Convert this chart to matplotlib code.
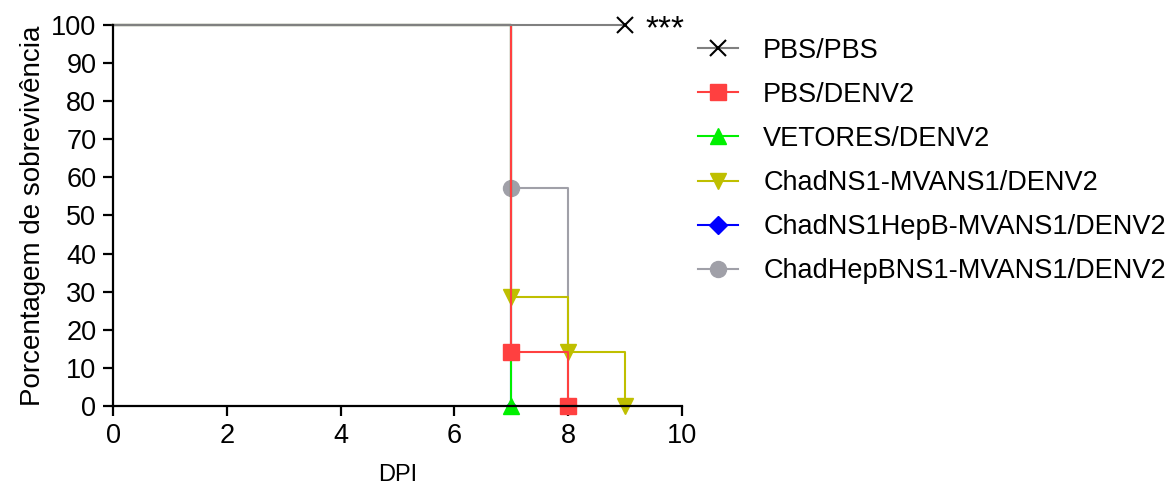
import matplotlib
matplotlib.use("Agg")
import matplotlib.pyplot as plt

plt.rcParams['font.family'] = ['Liberation Sans', 'DejaVu Sans']

# Kaplan-Meier steps: day of each event and survival (%) after it
groups = ["ChadHepBNS1-MVANS1/DENV2", "ChadNS1HepB-MVANS1/DENV2",
          "ChadNS1-MVANS1/DENV2", "VETORES/DENV2", "PBS/DENV2", "PBS/PBS"]
days = {
    "PBS/PBS": [0, 9],
    "PBS/DENV2": [0, 7, 8],
    "VETORES/DENV2": [0, 7],
    "ChadNS1-MVANS1/DENV2": [0, 7, 8, 9],
    "ChadNS1HepB-MVANS1/DENV2": [0, 7],
    "ChadHepBNS1-MVANS1/DENV2": [0, 7, 8],
}
survival = {
    "PBS/PBS": [100, 100],
    "PBS/DENV2": [100, 14.29, 0],
    "VETORES/DENV2": [100, 0],
    "ChadNS1-MVANS1/DENV2": [100, 28.57, 14.29, 0],
    "ChadNS1HepB-MVANS1/DENV2": [100, 0],
    "ChadHepBNS1-MVANS1/DENV2": [100, 57.14, 0],
}
legend_order = ["PBS/PBS", "PBS/DENV2", "VETORES/DENV2", "ChadNS1-MVANS1/DENV2",
                "ChadNS1HepB-MVANS1/DENV2", "ChadHepBNS1-MVANS1/DENV2"]

styles = {
    "PBS/PBS": dict(color="#808080", marker="x", mfc="black", mec="black", ms=12, mew=1.5),
    "PBS/DENV2": dict(color="#FF4040", marker="s", mfc="#FF4040", mec="#FF4040", ms=11),
    "VETORES/DENV2": dict(color="#00F000", marker="^", mfc="#00F000", mec="#00F000", ms=12),
    "ChadNS1-MVANS1/DENV2": dict(color="#BFBF00", marker="v", mfc="#BFBF00", mec="#BFBF00", ms=12),
    "ChadNS1HepB-MVANS1/DENV2": dict(color="#0000FF", marker="D", mfc="#0000FF", mec="#0000FF", ms=9),
    "ChadHepBNS1-MVANS1/DENV2": dict(color="#A0A0A8", marker="o", mfc="#A0A0A8", mec="#A0A0A8", ms=11.5),
}

fig = plt.figure(figsize=(11.7, 4.86), dpi=100)
ax = fig.add_axes([0.0966, 0.1646, 0.4863, 0.784])

handles = {}
for g in groups:
    x = days[g]
    y = survival[g]
    st = dict(styles[g])
    # the blue diamond sits behind the green triangle at day 7
    if g == "ChadNS1HepB-MVANS1/DENV2":
        st["ms"] = 5
    line, = ax.plot(x, y, drawstyle="steps-post", lw=1.5, clip_on=False,
                    markevery=list(range(1, len(x))), label=g, **st)
    handles[g] = line

ax.text(9.35, 96.6, "***", fontsize=24, va="baseline", ha="left")

ax.set_xlim(0, 10)
ax.set_ylim(0, 100)
ax.set_xticks(range(0, 11, 2))
ax.set_yticks(range(0, 101, 10))
for s in ["top", "right"]:
    ax.spines[s].set_visible(False)
for s in ["left", "bottom"]:
    ax.spines[s].set_linewidth(1.6)
ax.tick_params(axis="both", direction="out", length=7, width=1.6, labelsize=19.5, pad=5)
ax.set_xlabel("DPI", fontsize=17, labelpad=11)
ax.set_ylabel("Porcentagem de sobrevivência", fontsize=20, labelpad=4)

# legend entries use the full marker sizes
leg_handles = []
for g in legend_order:
    h = plt.Line2D([], [], lw=1.5, **styles[g])
    leg_handles.append(h)
ax.legend(leg_handles, legend_order, loc="upper left",
          bbox_to_anchor=(1.028, 0.967), frameon=False, fontsize=19.5,
          handlelength=1.48, handletextpad=0.93, labelspacing=0.67,
          borderpad=0, borderaxespad=0)

fig.savefig("out.png", dpi=100)
